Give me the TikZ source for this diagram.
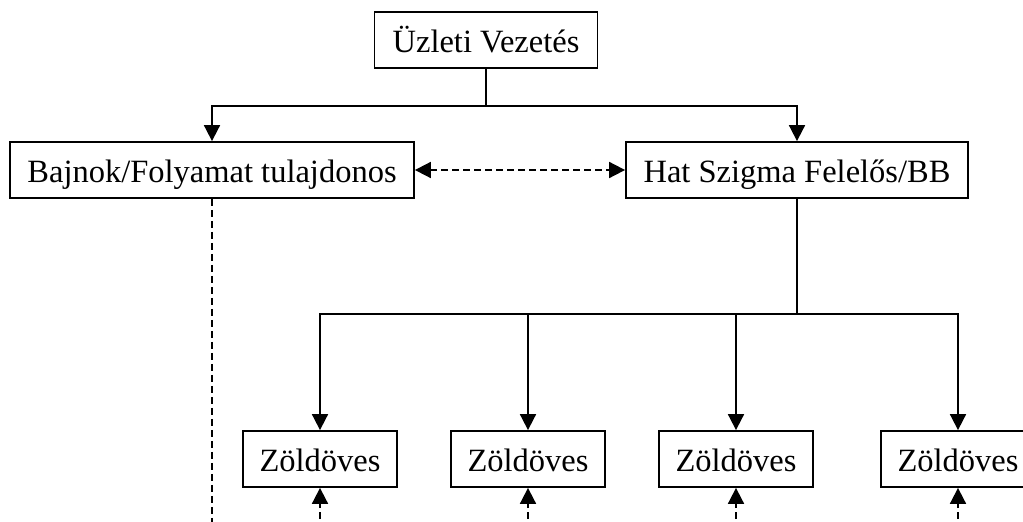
\documentclass[tikz,border=0pt]{standalone}
\usepackage{fontspec}
\setmainfont{Liberation Serif}
\usetikzlibrary{arrows.meta}

\begin{document}
\begin{tikzpicture}[x=1pt,y=-1pt,line width=1.8pt,
    >={Triangle[length=16pt,width=16pt]},
    box/.style={draw,rectangle,inner xsep=0pt,inner ysep=0pt,minimum height=56pt,
      text height=29pt,text depth=5pt,font=\fontsize{32.5}{39}\selectfont},
    link/.style={dash pattern=on 7pt off 4pt}]

    \clip (0,0) rectangle (1023,522);

    \node[box,minimum width=223pt] (top) at (486,40) {Üzleti Vezetés};
    \node[box,minimum width=404pt] (bajnok) at (212,170) {Bajnok/Folyamat tulajdonos};
    \node[box,minimum width=342pt] (hat) at (797,170) {Hat Szigma Felelős/BB};

    \node[box,minimum width=154pt] (z1) at (320,459) {Zöldöves};
    \node[box,minimum width=154pt] (z2) at (528,459) {Zöldöves};
    \node[box,minimum width=154pt] (z3) at (736,459) {Zöldöves};
    \node[box,minimum width=154pt] (z4) at (958,459) {Zöldöves};

    \coordinate (topfork) at (486,106);
    \coordinate (hatfork) at (797,314);
    \coordinate (bajnokend) at (212,530);

    \draw[->] (top.south) -- (topfork) -| (bajnok.north);
    \draw[->] (topfork) -| (hat.north);
    \draw[<->,link] (bajnok.east) -- (hat.west);
    \draw[link] (bajnok.south) -- (bajnokend);

    \draw (hat.south) -- (hatfork);
    \foreach \z in {z1,z2,z3,z4}
    {
        \draw[->] (hatfork) -| (\z.north);
        \coordinate (\z end) at (\z.south |- bajnokend);
        \draw[->,link] (\z end) -- (\z.south);
    }
\end{tikzpicture}
\end{document}
